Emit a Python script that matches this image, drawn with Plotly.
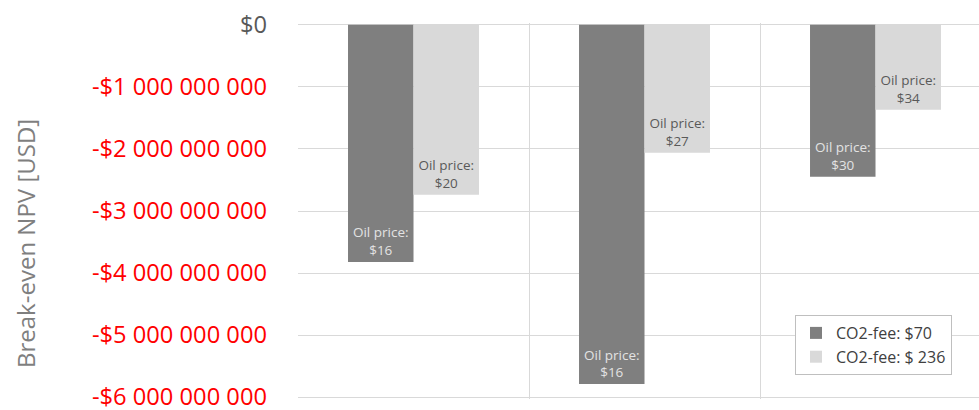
import plotly.graph_objects as go

categories = [0, 1, 2]
fee70_npv = [-3.82e9, -5.79e9, -2.45e9]
fee236_npv = [-2.74e9, -2.06e9, -1.37e9]
fee70_oil = ["$16", "$16", "$30"]
fee236_oil = ["$20", "$27", "$34"]
series_names = ["CO2-fee: $70", "CO2-fee: $ 236"]
tick_vals = [0, -1e9, -2e9, -3e9, -4e9, -5e9, -6e9]
tick_text = ["$0", "-$1 000 000 000", "-$2 000 000 000", "-$3 000 000 000",
             "-$4 000 000 000", "-$5 000 000 000", "-$6 000 000 000"]
y_title = "Break-even NPV [USD]"

FONT = "Open Sans"
colored_ticks = [t if v == 0 else f'<span style="color:#ff0000">{t}</span>'
                 for v, t in zip(tick_vals, tick_text)]

ML, MT, MB, W, H = 298, 23, 11, 979, 410
PW, PH = W - ML, H - MT - MB

fig = go.Figure()
fig.add_trace(go.Bar(
    x=categories, y=fee70_npv, name=series_names[0],
    marker=dict(color="#7f7f7f", line=dict(width=0)),
    text=[f"Oil price:<br>{p}" for p in fee70_oil],
    textposition="inside", insidetextanchor="end", textangle=0,
    constraintext="none",
    textfont=dict(family=FONT, size=13.5, color="#e3e3e3"),
))
fig.add_trace(go.Bar(
    x=categories, y=fee236_npv, name=series_names[1],
    marker=dict(color="#d9d9d9", line=dict(width=0)),
    text=[f"Oil price:<br>{p}" for p in fee236_oil],
    textposition="inside", insidetextanchor="end", textangle=0,
    constraintext="none",
    textfont=dict(family=FONT, size=13.5, color="#595959"),
))

fig.add_annotation(
    text=y_title, textangle=-90, xref="paper", yref="paper",
    x=(25 - ML) / PW, y=(H - MB - 244) / PH, xanchor="center", yanchor="middle",
    showarrow=False, font=dict(family=FONT, size=24, color="#7f7f7f"),
)

fig.update_layout(
    width=W, height=H,
    margin=dict(l=ML, r=0, t=MT, b=MB, autoexpand=False),
    paper_bgcolor="white", plot_bgcolor="white",
    barmode="group", bargap=0.433, bargroupgap=0,
    font=dict(family=FONT, color="#595959"),
    showlegend=True,
    legend=dict(
        x=(795 - ML) / PW, y=(H - MB - 315) / PH, xanchor="left", yanchor="top",
        bgcolor="white", bordercolor="#bfbfbf", borderwidth=1,
        font=dict(family=FONT, size=16, color="#404040"),
        itemwidth=30, tracegroupgap=0,
    ),
    xaxis=dict(
        range=[-0.5, 2.448], tickvals=[-0.5, 0.5, 1.5, 2.5],
        showticklabels=False, showgrid=True, gridcolor="#d9d9d9", gridwidth=1,
        zeroline=False, showline=False, ticks="",
    ),
    yaxis=dict(
        range=[-6.03e9, 0.03e9], tickvals=tick_vals, ticktext=colored_ticks,
        tickfont=dict(family=FONT, size=23.7, color="#595959"),
        ticklabelstandoff=30, ticklabeloverflow="allow",
        showgrid=True, gridcolor="#d9d9d9", gridwidth=1,
        zeroline=False, showline=False, ticks="", ticklen=0,
        automargin=False,
    ),
)

fig.write_html("out.html", config={"displayModeBar": False},
               post_script="document.body.style.margin='0px';")
